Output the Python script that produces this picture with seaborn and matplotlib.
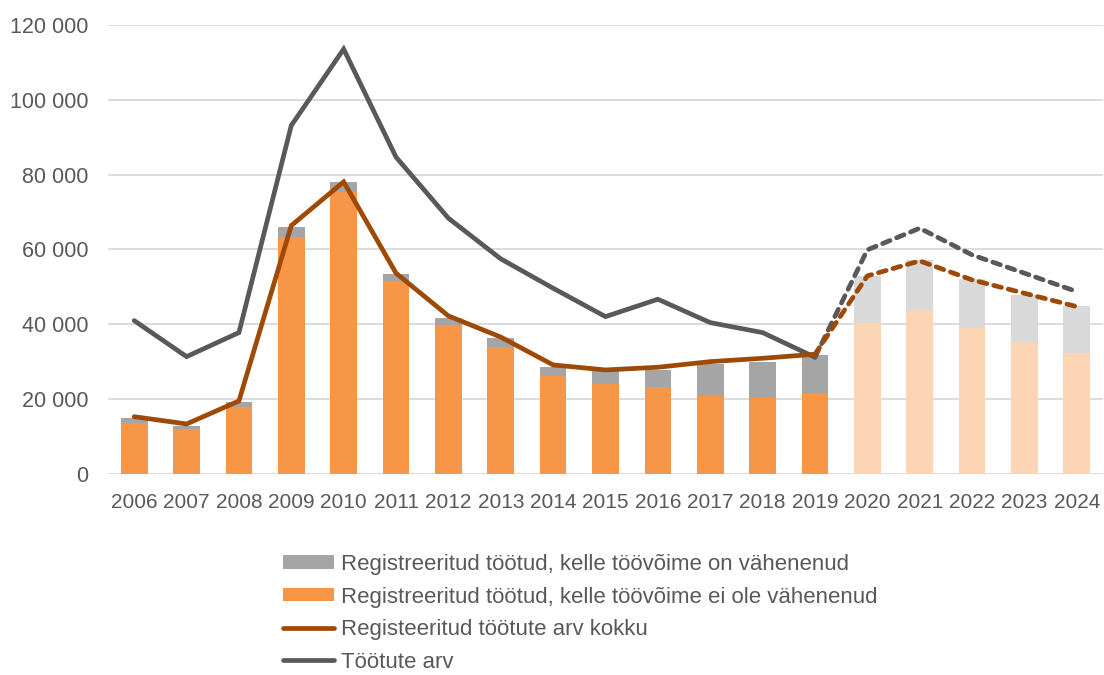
import numpy as np
import matplotlib
matplotlib.use("Agg")
import matplotlib.pyplot as plt
from matplotlib.patches import Patch
from matplotlib.lines import Line2D
from matplotlib.ticker import FuncFormatter
import seaborn as sns

years = ["2006", "2007", "2008", "2009", "2010", "2011", "2012", "2013", "2014", "2015",
         "2016", "2017", "2018", "2019", "2020", "2021", "2022", "2023", "2024"]
# registered unemployed, work ability not reduced (orange part of bar)
not_reduced = [13720, 12030, 17830, 63460, 75410, 51420, 39840, 33900, 26290, 24070,
               23260, 20940, 20240, 21580, 40300, 43850, 39130, 35300, 32270]
# registered unemployed with reduced work ability (grey part of bar)
reduced = [1330, 890, 1340, 2670, 2670, 1980, 1960, 2450, 2410, 3470,
           4550, 8390, 9790, 10240, 12650, 13370, 13010, 12560, 12650]
registered_total = [15320, 13370, 19520, 66400, 78080, 53670, 42250, 36600, 29150, 27810,
                    28530, 30030, 30930, 32010, 52950, 56950, 51880, 48300, 44740]
unemployed = [41000, 31370, 37790, 93140, 113560, 84690, 68370, 57500, 49650, 42060,
              46710, 40460, 37790, 31200, 59900, 65690, 58560, 53670, 48750]
last_actual = "2019"

labels = [
    "Registreeritud töötud, kelle töövõime on vähenenud",
    "Registreeritud töötud, kelle töövõime ei ole vähenenud",
    "Registeeritud töötute arv kokku",
    "Töötute arv",
]

ORANGE, ORANGE_LT = "#F79646", "#FCD5B5"
GREY, GREY_LT = "#A5A5A5", "#D9D9D9"
BROWN, DARK = "#9E4A06", "#595959"
TEXT = "#595959"

sns.set_style("white")
plt.rcParams["font.family"] = ["Liberation Sans", "DejaVu Sans"]

cut = years.index(last_actual)
forecast = [i > cut for i in range(len(years))]
bar_tot = np.array(not_reduced) + np.array(reduced)

fig = plt.figure(figsize=(11.04, 6.75), dpi=100)
ax = fig.add_axes([108 / 1104, 1 - 474 / 675, (1103 - 108) / 1104, (474 - 25) / 675])

sns.barplot(x=years, y=bar_tot, hue=years, palette=[GREY_LT if f else GREY for f in forecast],
            saturation=1, width=0.51, legend=False, ax=ax, zorder=2, linewidth=0)
sns.barplot(x=years, y=not_reduced, hue=years, palette=[ORANGE_LT if f else ORANGE for f in forecast],
            saturation=1, width=0.51, legend=False, ax=ax, zorder=2, linewidth=0)

idx = np.arange(len(years))
lw = 3.4
for series, col in [(unemployed, DARK), (registered_total, BROWN)]:
    s = np.array(series)
    sns.lineplot(x=idx[:cut + 1], y=s[:cut + 1], color=col, linewidth=lw, ax=ax, zorder=3,
                 solid_joinstyle="miter")
    sns.lineplot(x=idx[cut:], y=s[cut:], color=col, linewidth=lw, ax=ax, zorder=3,
                 dashes=False, linestyle=(0, (1.7, 1.5)), dash_capstyle="round")

ax.set_xlim(-0.5, len(years) - 0.5)
ax.set_ylim(0, 120000)
ax.set_yticks(range(0, 120001, 20000))
ax.yaxis.set_major_formatter(FuncFormatter(lambda v, p: f"{v:,.0f}".replace(",", " ")))
ax.set_xticks(idx)
ax.set_xticklabels(years)
ax.grid(axis="y", color="#D9D9D9", linewidth=1.3, zorder=0)
ax.set_axisbelow(True)
for sp in ax.spines.values():
    sp.set_visible(False)
ax.tick_params(axis="y", length=0, pad=14, labelsize=15.5, labelcolor=TEXT)
ax.tick_params(axis="x", length=0, pad=14, labelsize=15, labelcolor=TEXT)
ax.set_xlabel("")
ax.set_ylabel("")

handles = [
    Patch(facecolor=GREY, edgecolor="none"),
    Patch(facecolor=ORANGE, edgecolor="none"),
    Line2D([], [], color=BROWN, linewidth=lw),
    Line2D([], [], color=DARK, linewidth=lw),
]
leg = fig.legend(handles, labels, loc="upper left", bbox_to_anchor=(283 / 1104, 1 - 554 / 675),
                 frameon=False, fontsize=16, handlelength=2.3, handleheight=0.55,
                 handletextpad=0.3, labelspacing=0.52, borderaxespad=0, borderpad=0)
for t in leg.get_texts():
    t.set_color(TEXT)

fig.savefig("out.png", dpi=100)
